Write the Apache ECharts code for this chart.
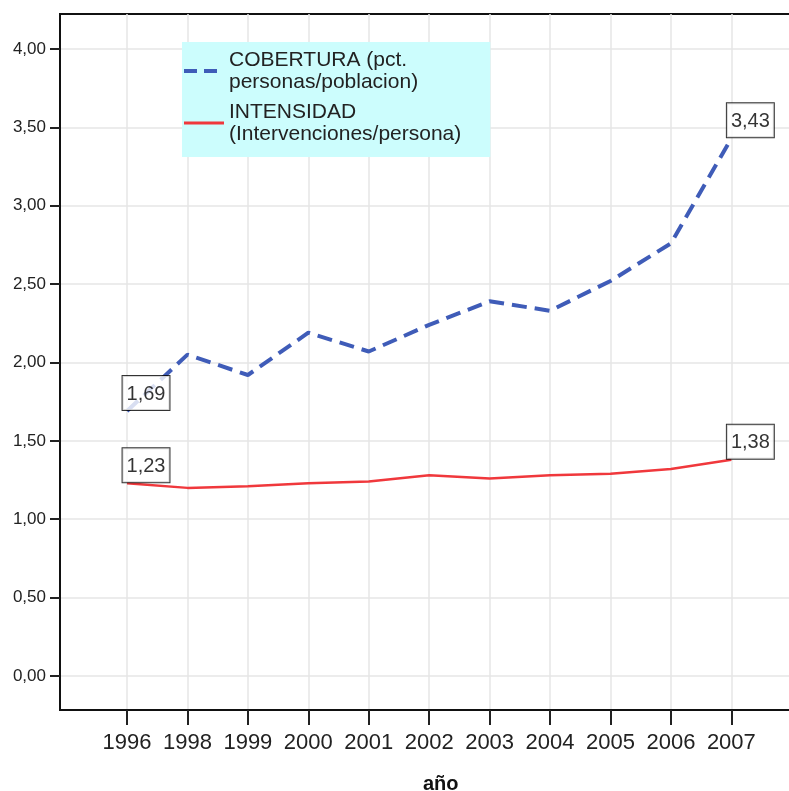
<!DOCTYPE html>
<html>
<head>
<meta charset="utf-8">
<script src="https://cdn.jsdelivr.net/npm/echarts@6/dist/echarts.min.js"></script>
<style>
    html, body {margin: 0; padding: 0; background: #fff; overflow: hidden; width: 789px; height: 791px;}
    #chart {width: 830px; height: 791px;}
</style>
</head>
<body>
<div id="chart"></div>
<script>
var years = ['1996', '1998', '1999', '2000', '2001', '2002', '2003', '2004', '2005', '2006', '2007'];
var cobertura = [1.69, 2.05, 1.92, 2.19, 2.07, 2.24, 2.39, 2.33, 2.52, 2.76, 3.43];
var intensidad = [1.23, 1.20, 1.21, 1.23, 1.24, 1.28, 1.26, 1.28, 1.29, 1.32, 1.38];
var yTicks = [0, 0.5, 1, 1.5, 2, 2.5, 3, 3.5, 4];
var nameCob = 'COBERTURA (pct.\npersonas/poblacion)';
var nameInt = 'INTENSIDAD\n(Intervenciones/persona)';

(function () {
    var myChart = echarts.init(document.getElementById('chart'));
    var font = 'Liberation Sans, Arial, sans-serif';
    var blue = '#3f5cb8', red = '#f0383c';

    function toPairs(arr) {
        return arr.map(function (v, i) { return [i, v]; });
    }
    // only first and last point get a boxed label
    function ends(arr) {
        return [[0, arr[0]], [arr.length - 1, arr[arr.length - 1]]];
    }
    function fmt(v) {
        return v.toFixed(2).replace('.', ',');
    }
    var xTicks = years.map(function (y, i) { return i; });

    var endLabel = {
        show: true,
        position: 'top',
        distance: 1,
        offset: [19, 0],
        formatter: function (p) { return fmt(p.value[1]); },
        fontFamily: font,
        fontSize: 20,
        color: '#000',
        backgroundColor: '#fff',
        borderColor: '#000',
        borderWidth: 1,
        padding: [6, 4, 4, 4],
        lineHeight: 24
    };

    var option = {
        animation: false,
        title: {
            text: 'año',
            left: 418,
            top: 769,
            textStyle: {fontFamily: font, fontSize: 20, fontWeight: 'bold', color: '#111'}
        },
        legend: {
            orient: 'vertical',
            left: 182,
            top: 42,
            data: [
                {name: nameCob, lineStyle: {color: blue, width: 4, type: [13, 7]}},
                {name: nameInt, lineStyle: {color: red, width: 3}}
            ],
            backgroundColor: '#ccfdfd',
            padding: [7, 29, 12, 0],
            itemWidth: 40,
            itemHeight: 14,
            itemGap: 8,
            itemStyle: {opacity: 0},
            textStyle: {fontFamily: font, fontSize: 21, lineHeight: 22, color: '#222'}
        },
        grid: {
            left: 60,
            top: 14,
            bottom: 81,
            width: 762,
            show: true,
            borderColor: '#111',
            borderWidth: 2
        },
        xAxis: {
            type: 'value',
            min: -1.109,
            max: 11.5,
            axisLine: {show: true, onZero: false, lineStyle: {color: '#111', width: 2}},
            axisTick: {show: true, length: 15, lineStyle: {color: '#222', width: 2},
                customValues: xTicks},
            axisLabel: {
                customValues: xTicks,
                formatter: function (v) { return years[Math.round(v)]; },
                margin: 22,
                fontFamily: font,
                fontSize: 22,
                color: '#222'
            },
            splitLine: {show: true, lineStyle: {color: '#e6e6e6', width: 1.5}}
        },
        yAxis: {
            type: 'value',
            min: -0.217,
            max: 4.223,
            axisLine: {show: true, onZero: false, lineStyle: {color: '#111', width: 2}},
            axisTick: {show: true, length: 10, lineStyle: {color: '#222', width: 2},
                customValues: yTicks},
            axisLabel: {
                customValues: yTicks,
                formatter: function (v) { return fmt(v); },
                margin: 14,
                fontFamily: font,
                fontSize: 17,
                color: '#222'
            },
            splitLine: {show: true, lineStyle: {color: '#e6e6e6', width: 1.5}}
        },
        series: [
            {
                name: nameCob,
                type: 'line',
                symbol: 'none',
                data: toPairs(cobertura),
                color: blue,
                lineStyle: {color: blue, width: 4, type: [15, 8]}
            },
            {
                name: nameInt,
                type: 'line',
                symbol: 'none',
                data: toPairs(intensidad),
                color: red,
                lineStyle: {color: red, width: 2.5}
            },
            {
                type: 'scatter',
                symbolSize: 0,
                data: ends(cobertura),
                label: endLabel,
                z: 5
            },
            {
                type: 'scatter',
                symbolSize: 0,
                data: ends(intensidad),
                label: endLabel,
                z: 5
            }
        ]
    };

    myChart.setOption(option);
})();
</script>
</body>
</html>
